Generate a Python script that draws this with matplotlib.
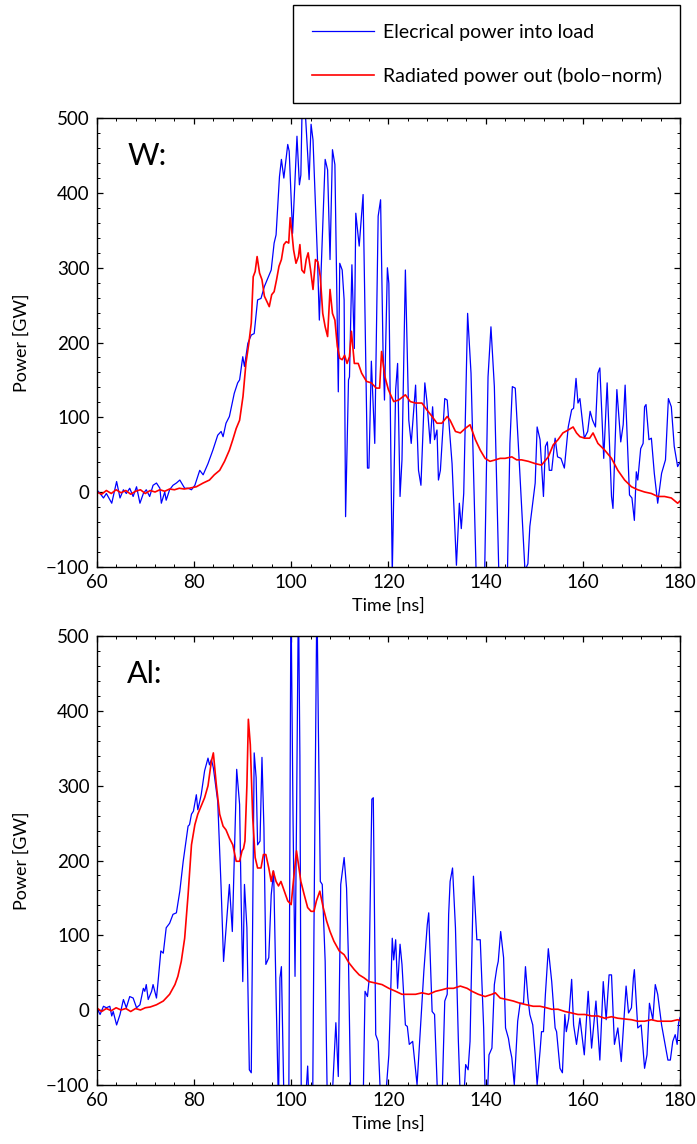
import numpy as np
import matplotlib.pyplot as plt
from matplotlib.ticker import MultipleLocator

plt.rcParams['font.family'] = ['Lato', 'DejaVu Sans']

# ---- W load: electrical power (blue) ----
t_elec_w = [60.0, 60.7, 61.4, 62.0, 63.1, 64.1, 64.8, 65.5, 66.1, 66.8, 67.5, 68.2, 68.9, 69.6,
            70.2, 70.9, 71.6, 72.3, 73.0, 73.3, 74.0, 74.3, 75.0, 75.7, 76.4, 77.1, 78.1, 78.8,
            79.5, 80.2, 80.8, 81.2, 81.9, 82.9, 83.9, 84.9, 85.6, 86.0, 86.6, 87.3, 88.3, 89.0,
            89.4, 90.05, 90.4, 91.1, 91.8, 92.4, 93.1, 93.8, 94.5, 95.9, 96.5, 96.9, 97.6, 98.0,
            98.5, 99.3, 99.6, 100.3, 101.2, 101.7, 102.0, 102.3, 103.0, 103.7, 104.1, 104.5, 105.4,
            105.8, 107.0, 107.5, 108.0, 108.5, 109.0, 109.7, 110.0, 110.5, 110.9, 111.2, 111.8,
            112.0, 112.5, 113.0, 113.3, 114.0, 114.8, 115.7, 116.0, 116.5, 117.2, 117.9, 118.4,
            118.9, 119.2, 119.8, 120.1, 120.8, 121.5, 121.9, 122.4, 122.8, 123.5, 124.2, 124.7,
            125.6, 126.2, 126.7, 127.5, 127.9, 128.6, 129.1, 129.5, 130.0, 130.3, 130.7, 131.6,
            132.1, 133.1, 134.0, 134.6, 135.0, 135.5, 136.3, 137.0, 138.1, 139.0, 139.8, 140.5,
            141.1, 141.8, 142.8, 143.7, 144.5, 145.0, 145.5, 146.1, 146.9, 148.1, 148.7, 149.1,
            150.2, 150.6, 151.2, 151.9, 152.3, 152.7, 153.1, 153.6, 154.3, 154.8, 155.5, 156.2,
            157.0, 157.7, 158.1, 158.6, 159.0, 159.4, 160.3, 161.0, 161.5, 162.0, 162.6, 163.1,
            163.5, 164.3, 165.0, 165.9, 166.2, 167.0, 167.8, 168.3, 168.7, 169.6, 170.1, 170.6,
            171.0, 171.3, 171.9, 172.4, 172.7, 173.0, 173.6, 174.1, 174.7, 175.4, 176.2, 177.0,
            177.6, 178.2, 178.8, 179.5, 180.0]
p_elec_w = [3, -2, -8, -2, -15, 14, -8, 3, -2, 5, -6, 7, -15, -2,
            3, -6, 9, 12, 5, -15, 0, -11, 3, 9, 12, 16, 5, 5,
            3, 9, 21, 29, 23, 38, 56, 76, 81, 74, 92, 101, 132, 146,
            150, 181, 168, 199, 210, 212, 257, 259, 275, 297, 333, 344, 422, 445,
            420, 465, 456, 346, 476, 411, 424, 530, 498, 418, 492, 471, 315,
            230, 445, 431, 311, 458, 438, 134, 306, 297, 257, -33, 150,
            154, 304, 192, 373, 329, 398, 32, 32, 175, 65, 369, 391,
            190, 123, 300, 279, -110, 137, 172, -6, 43, 297, 96, 65,
            143, 29, 9, 146, 123, 65, 114, 70, 83, 16, 29, 125,
            123, 38, -98, -15, -49, -2, 239, 159, -120, -140, -110, 154,
            221, 141, -130, -140, -105, 65, 141, 139, 43, -105, -96, -46,
            12, 87, 70, -6, 61, 67, 29, 29, 72, 47, 45, 32,
            87, 110, 112, 152, 119, 125, 72, 81, 108, 96, 87, 159,
            166, 45, 146, -6, -22, 137, 67, 90, 143, -4, -8, -38,
            27, 16, 58, 65, 114, 117, 70, 72, 25, -15, 25, 43,
            125, 114, 61, 34, 40]

# ---- W load: radiated power (red) ----
t_rad_w = [60, 61, 62, 63, 64, 65, 66, 67, 68, 69, 70, 71, 72, 73, 74, 75, 76, 77, 78, 79,
           80.5, 81.9, 83.2, 84.2, 85.3, 86.3, 87.3, 88.0, 88.7, 89.4, 90.1, 90.7, 91.3, 91.8,
           92.2, 92.6, 93.0, 93.5, 94.0, 94.5, 95.0, 95.5, 96.0, 96.5, 97.0, 97.5, 98.0, 98.5,
           99.0, 99.5, 99.8, 100.1, 100.5, 101.0, 101.5, 101.8, 102.2, 102.7, 103.1, 103.5,
           104.0, 104.5, 105.0, 105.5, 106.0, 106.5, 107.0, 107.5, 108.0, 108.5, 109.0, 109.5,
           110.0, 110.5, 111.0, 111.5, 112.0, 112.4, 113.0, 113.8, 114.5, 115.5, 116.5, 117.5,
           118.2, 118.6, 119.3, 120.0, 120.6, 121.1, 122.1, 123.5, 124.5, 125.6, 126.9, 127.9,
           129.0, 130.0, 131.0, 132.1, 132.7, 133.8, 134.8, 135.8, 136.8, 137.9, 138.9, 139.9,
           140.9, 142.0, 143.0, 144.0, 145.4, 146.4, 147.4, 148.8, 150.2, 151.5, 152.9, 153.9,
           154.9, 155.9, 157.0, 158.0, 158.7, 159.4, 160.4, 161.4, 162.1, 163.1, 164.5, 165.9,
           167.2, 168.6, 170.0, 171.3, 172.7, 174.1, 175.4, 176.8, 178.2, 179.5, 180.0]
p_rad_w = [0, -3, 2, -2, 3, -1, 2, -3, 1, 3, -2, 2, 0, 3, 1, 4, 3, 5, 4, 5,
           7, 12, 16, 23, 29, 41, 56, 70, 85, 96, 128, 172, 199, 226,
           288, 295, 315, 293, 284, 262, 255, 248, 264, 268, 284, 302, 311, 331,
           335, 333, 367, 351, 324, 306, 315, 331, 297, 293, 311, 320,
           297, 271, 311, 308, 288, 239, 221, 208, 271, 239, 230, 195,
           179, 177, 183, 172, 181, 215, 172, 172, 159, 148, 146, 139,
           139, 188, 154, 137, 128, 121, 123, 130, 121, 119, 119, 110,
           101, 92, 92, 101, 96, 81, 79, 85, 90, 70, 56, 45,
           41, 43, 45, 45, 47, 43, 43, 41, 38, 36, 47, 63,
           70, 79, 83, 87, 79, 74, 72, 72, 79, 65, 56, 45,
           29, 16, 7, 3, 0, -2, -6, -6, -8, -15, -12]

# ---- Al load: electrical power (blue) ----
t_elec_al = [60.0, 60.7, 61.4, 62.0, 62.7, 63.1, 63.4, 64.1, 64.8, 65.5, 66.1, 66.8, 67.5, 68.2,
             68.9, 69.6, 69.9, 70.2, 70.6, 71.3, 71.6, 72.3, 72.6, 73.2, 73.7, 74.3, 75.0, 75.7,
             76.4, 77.1, 77.8, 78.8, 79.1, 79.5, 79.9, 80.5, 80.8, 81.2, 81.5, 82.2, 82.9, 83.2,
             83.6, 84.0, 84.9, 85.6, 86.1, 87.3, 87.9, 88.8, 89.4, 89.7, 90.05, 90.4, 90.9, 91.4,
             91.8, 92.4, 92.8, 93.1, 93.6, 94.0, 94.4, 94.8, 95.4, 95.9, 96.4, 96.9, 97.4, 97.7,
             98.0, 98.6, 99.5, 99.96, 100.4, 100.8, 101.1, 101.5, 101.8, 102.1, 102.7, 103.4,
             103.7, 104.4, 104.7, 105.3, 105.6, 106.0, 106.4, 107.0, 107.5, 108.2, 109.2, 109.7,
             110.2, 110.9, 111.4, 111.8, 112.3, 113.3, 114.8, 115.2, 115.7, 116.0, 116.6, 116.9,
             117.4, 117.9, 118.4, 119.4, 120.1, 120.8, 121.1, 121.5, 121.9, 122.4, 122.8, 123.5,
             123.9, 124.3, 125.0, 125.9, 126.6, 127.3, 128.0, 128.3, 129.0, 129.5, 130.2, 131.0,
             131.6, 132.1, 132.4, 132.7, 133.2, 133.8, 134.4, 134.8, 135.5, 135.9, 136.4, 136.8,
             137.5, 138.2, 138.9, 139.6, 139.9, 140.4, 140.7, 141.3, 141.8, 142.3, 142.6, 143.1,
             143.7, 144.1, 144.7, 145.0, 145.4, 145.9, 146.6, 147.1, 147.8, 148.2, 148.7, 149.1,
             149.7, 150.2, 150.6, 151.2, 151.5, 151.9, 152.3, 152.9, 153.6, 154.3, 154.6, 155.3,
             155.8, 156.3, 156.6, 157.1, 157.7, 158.1, 158.7, 159.4, 160.3, 161.1, 161.8, 162.7,
             163.5, 164.2, 164.8, 165.4, 165.9, 166.5, 167.2, 167.9, 168.9, 169.4, 170.0, 170.4,
             170.6, 171.3, 172.0, 172.7, 173.2, 173.7, 174.4, 174.9, 175.4, 176.2, 176.8, 177.5,
             178.0, 178.5, 179.0, 179.4, 179.7, 180.0]
p_elec_al = [3, -6, 5, 3, 5, -8, -2, -20, -6, 14, 3, 18, 16, 3,
             7, 29, 25, 34, 14, 25, 34, 16, 36, 79, 76, 110, 116, 128,
             130, 159, 199, 246, 248, 262, 266, 288, 268, 279, 288, 320, 337, 328,
             335, 324, 279, 163, 65, 168, 105, 322, 275, 154, 38, 168, 110, -80,
             -84, 344, 311, 221, 226, 338, 244, 61, 70, 154, 186, 21, -130, 43,
             58, -150, -150, 560, 250, 45, 250, 560, 340, -150, -150, -75,
             -130, -150, 110, 560, 378, 172, 168, 65, -150, -150, -17, -89,
             168, 204, 163, 65, -140, -150, -130, 25, 18, 38, 282, 284,
             -33, -42, -120, -120, -60, 96, 67, 94, 29, 88, 61, -20,
             -22, -46, -42, -100, -24, 52, 114, 130, -2, -6, -130, -130,
             12, 21, 128, 172, 190, 110, -42, -120, -120, -73, -80, -42,
             179, 94, 94, -24, -110, -110, -60, -51, 34, 56, 65, 105,
             70, -24, -38, -51, -64, -100, -15, 9, 9, 58, 16, -6,
             -20, -60, -100, -55, -29, -29, 21, 82, 38, -24, -29, -78,
             -84, -6, -29, -11, 41, -20, -46, -11, -60, 25, -51, 12,
             -67, 38, -13, 47, 47, -46, -24, -69, 32, -4, 3, 43,
             54, -24, -20, -78, -60, 9, -13, 34, 21, -20, -42, -67,
             -67, -42, -33, -46, -17, -10]

# ---- Al load: radiated power (red) ----
t_rad_al = [60, 61, 62, 63, 64, 65, 66, 67, 68, 69, 70, 71, 72.3, 73.7, 75.0, 76.1, 76.7, 77.4,
            78.1, 78.8, 79.5, 80.2, 80.8, 81.5, 82.2, 82.9, 83.6, 84.0, 84.6, 85.3, 86.0, 86.6,
            87.3, 88.0, 88.7, 89.4, 89.9, 90.2, 90.5, 90.9, 91.2, 91.6, 92.1, 92.6, 93.1, 93.8,
            94.3, 94.8, 95.4, 95.9, 96.3, 96.9, 97.4, 97.9, 98.6, 99.3, 100.0, 100.4, 101.1,
            101.5, 102.0, 102.7, 103.4, 104.1, 104.7, 105.2, 105.9, 106.6, 107.3, 108.0, 108.8,
            109.9, 110.9, 111.9, 113.0, 114.0, 115.0, 116.0, 117.4, 118.7, 120.1, 121.5, 122.8,
            124.2, 125.6, 126.9, 128.3, 129.7, 131.0, 132.1, 133.4, 134.8, 136.2, 137.2, 138.5,
            139.9, 141.3, 142.0, 143.0, 144.4, 145.7, 147.1, 148.4, 149.8, 151.2, 152.5, 153.6,
            154.9, 156.3, 157.7, 159.0, 160.4, 161.8, 163.1, 164.5, 165.9, 167.2, 168.6, 170.0,
            171.3, 172.7, 174.1, 175.4, 176.8, 178.2, 179.5, 180.0]
p_rad_al = [3, -2, 2, -1, 3, 0, 2, -2, 2, 0, 3, 4, 7, 12, 21, 34, 45, 65,
            96, 154, 221, 248, 262, 273, 284, 300, 333, 344, 302, 262, 246, 241,
            230, 221, 199, 199, 213, 216, 226, 300, 389, 355, 257, 204, 190, 190,
            208, 208, 190, 172, 186, 172, 166, 172, 159, 146, 141, 168, 213,
            195, 172, 154, 137, 132, 132, 146, 159, 137, 119, 105, 92,
            79, 74, 63, 54, 47, 43, 38, 36, 34, 29, 25, 21,
            21, 21, 23, 21, 25, 27, 29, 29, 32, 29, 25, 21,
            18, 21, 23, 16, 14, 12, 9, 7, 5, 5, 3, 1,
            1, -2, -4, -6, -6, -8, -8, -11, -9, -11, -12, -13,
            -15, -15, -13, -15, -15, -15, -13, -14]

panels = [('W:', t_elec_w, p_elec_w, t_rad_w, p_rad_w, 0.5046),
          ('Al:', t_elec_al, p_elec_al, t_rad_al, p_rad_al, 0.0518)]

fig = plt.figure(figsize=(6.97, 11.44), dpi=100)

for name, te, pe, tr, pr, bottom in panels:
    ax = fig.add_axes([0.1387, bottom, 0.837, 0.392])
    l1, = ax.plot(te, pe, color='#0000ff', lw=0.9, label='Elecrical power into load')
    l2, = ax.plot(tr, pr, color='#ff0000', lw=1.2, label='Radiated power out (bolo\u2212norm)')
    ax.set_xlim(60, 180)
    ax.set_ylim(-100, 500)
    ax.xaxis.set_major_locator(MultipleLocator(20))
    ax.xaxis.set_minor_locator(MultipleLocator(4))
    ax.yaxis.set_major_locator(MultipleLocator(100))
    ax.yaxis.set_minor_locator(MultipleLocator(20))
    ax.tick_params(which='both', direction='in', top=True, right=True, labelsize=13.5, pad=5)
    ax.tick_params(which='major', length=4, width=0.9)
    ax.tick_params(which='minor', length=2.2, width=0.7)
    for s in ax.spines.values():
        s.set_linewidth(1.0)
    ax.set_xlabel('Time [ns]', fontsize=13, labelpad=5)
    ax.set_ylabel('Power [GW]', fontsize=13, labelpad=12)
    ax.text(66.3, 450, name, fontsize=22, va='center', ha='left')

fig.legend(handles=[l1, l2], loc='upper right', bbox_to_anchor=(0.9756, 0.9956),
           borderaxespad=0, fontsize=14, frameon=True, fancybox=False, edgecolor='black',
           framealpha=1, borderpad=0.95, labelspacing=1.35, handlelength=3.2, handletextpad=0.45)
fig.legends[0].get_frame().set_linewidth(1.0)

plt.savefig('out.png', dpi=100)
